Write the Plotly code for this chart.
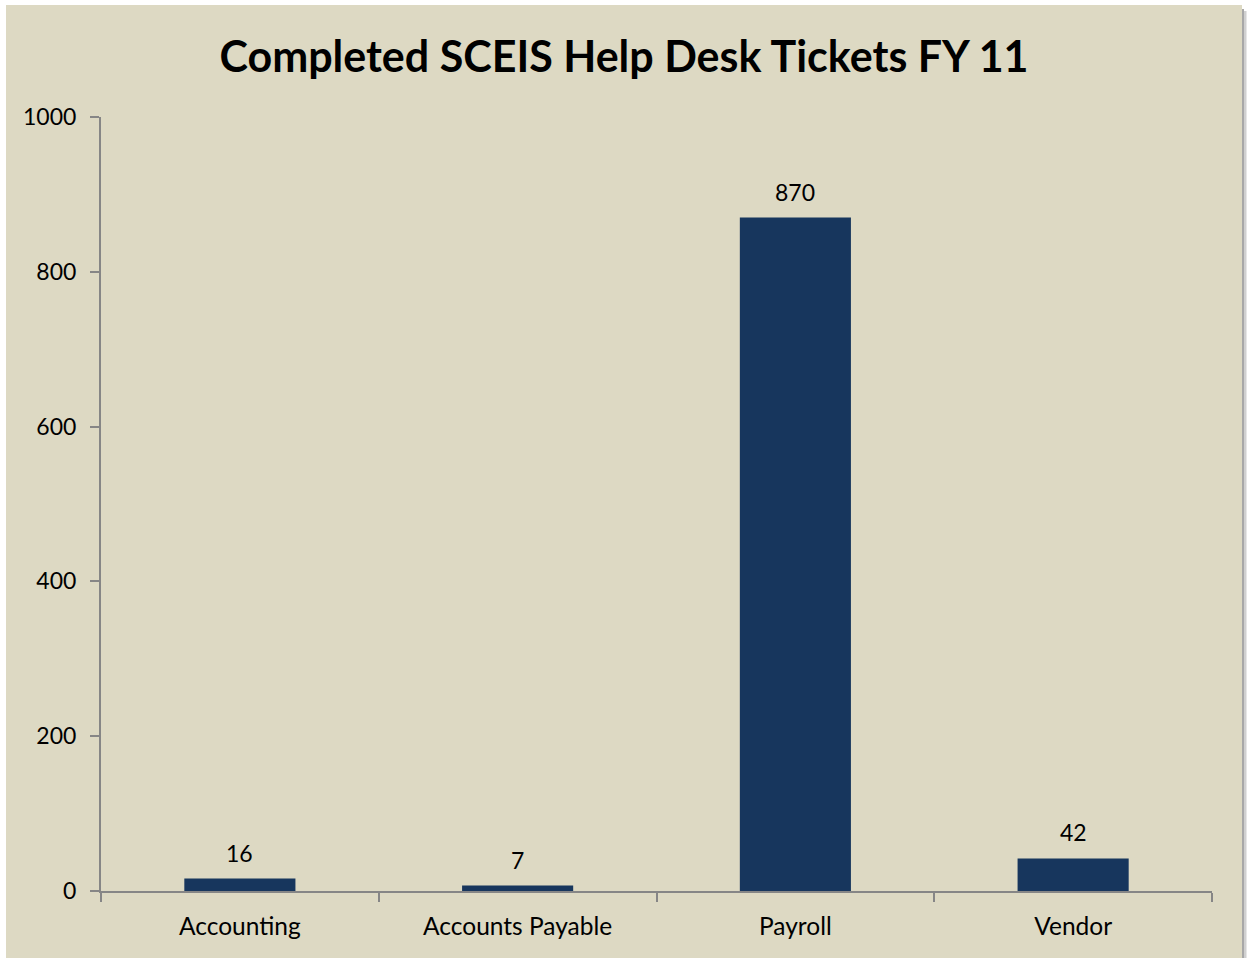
import plotly.graph_objects as go

categories = ["Accounting", "Accounts Payable", "Payroll", "Vendor"]
tickets = [16, 7, 870, 42]
y_ticks = [0, 200, 400, 600, 800, 1000]
title_text = "Completed SCEIS Help Desk Tickets FY 11"

W, H = 1248, 958
L, R, T, B = 101, 36, 117, 67
pw, ph = W - L - R, H - T - B

def px_x(p):
    return (p - L) / pw

def px_y(p):
    return (H - B - p) / ph

BG = "#DDD9C3"
FONT = "Lato"

fig = go.Figure()
fig.add_trace(go.Bar(
    x=categories, y=tickets,
    marker=dict(color="#17365D", line=dict(width=0)),
    width=0.4, hoverinfo="x+y",
))

annotations = [
    dict(x=c, y=v, xref="x", yref="y", text=str(v), showarrow=False,
         yanchor="middle", xanchor="center", yshift=26,
         font=dict(family=FONT, size=23, color="#000000"))
    for c, v in zip(categories, tickets)
]

shapes = [
    dict(type="rect", xref="paper", yref="paper", layer="below",
         x0=px_x(6), x1=px_x(1242), y0=px_y(970), y1=px_y(5),
         fillcolor=BG, line=dict(width=0)),
    dict(type="rect", xref="paper", yref="paper", layer="below",
         x0=px_x(1242), x1=px_x(1244), y0=px_y(970), y1=px_y(9),
         fillcolor="#A8A8A8", line=dict(width=0)),
    dict(type="rect", xref="paper", yref="paper", layer="below",
         x0=px_x(1244), x1=px_x(1246.5), y0=px_y(970), y1=px_y(11),
         fillcolor="#D0D0D0", line=dict(width=0)),
]

fig.update_layout(
    width=W, height=H,
    margin=dict(l=L, r=R, t=T, b=B, pad=0),
    paper_bgcolor="#FFFFFF", plot_bgcolor=BG,
    showlegend=False,
    title=dict(text="<b>" + title_text + "</b>", x=0.5, xref="container",
               y=1 - 57 / H, yref="container", xanchor="center", yanchor="middle",
               font=dict(family=FONT, size=43, color="#000000")),
    shapes=shapes,
    annotations=annotations,
    xaxis=dict(
        showline=True, linecolor="#868686", linewidth=2,
        ticks="outside", ticklen=9, tickwidth=2, tickcolor="#868686",
        tickson="boundaries", showgrid=False, zeroline=False,
        tickfont=dict(family=FONT, size=24.5, color="#000000"),
        ticklabelstandoff=13,
    ),
    yaxis=dict(
        range=[0, 1000], tickvals=y_ticks,
        showline=True, linecolor="#868686", linewidth=2,
        ticks="outside", ticklen=9, tickwidth=2, tickcolor="#868686",
        showgrid=False, zeroline=False,
        tickfont=dict(family=FONT, size=23, color="#000000"),
        ticklabelstandoff=9,
    ),
    font=dict(family=FONT),
)

fig.write_html("out.html", config={"displayModeBar": False},
               post_script="document.body.style.margin='0';document.body.style.overflow='hidden';")
